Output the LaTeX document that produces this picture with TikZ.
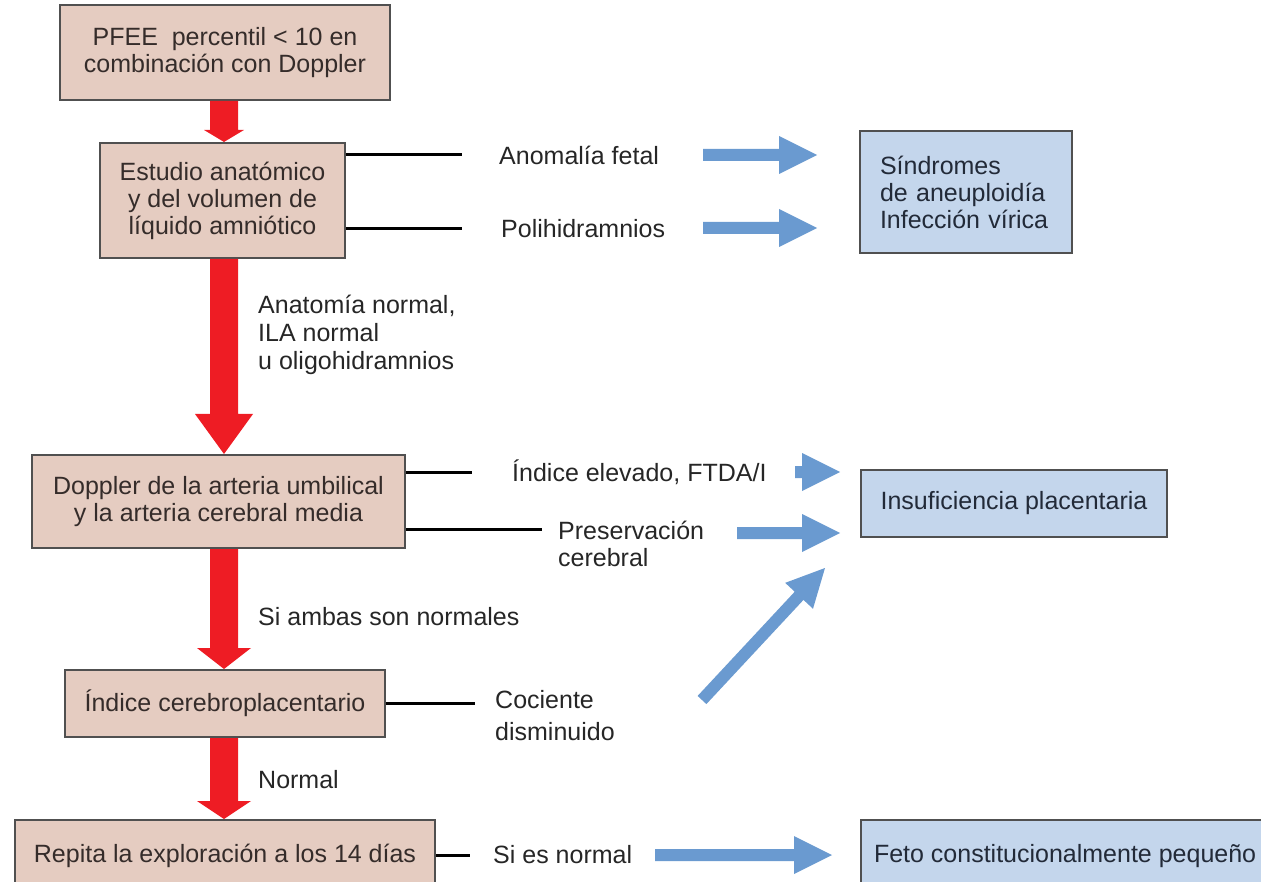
\documentclass[tikz,border=0pt]{standalone}
\usepackage{fontspec}
\setmainfont{Liberation Sans}
\usetikzlibrary{calc}
\definecolor{beige}{HTML}{E5CCC1}
\definecolor{lblue}{HTML}{C4D6EC}
\definecolor{arrblue}{HTML}{6A9AD0}
\definecolor{arrred}{HTML}{EE1C24}
\definecolor{edge}{HTML}{505050}
\definecolor{boxtxt}{HTML}{352C2A}
\definecolor{restxt}{HTML}{222A38}
\definecolor{labtxt}{HTML}{262626}

% #1 colour, #2 start, #3 tip, #4 shaft half width, #5 head half width, #6 head length
\newcommand\fatarrow[6]{%
  \coordinate (fahead) at ($(#3)!#6!(#2)$);
  \fill[#1] ($(#2)!#4!90:(#3)$) -- ($(fahead)!#4!90:(#3)$) -- ($(fahead)!#5!90:(#3)$)
    -- (#3) -- ($(fahead)!#5!-90:(#3)$) -- ($(fahead)!#4!-90:(#3)$) -- ($(#2)!#4!-90:(#3)$) -- cycle;}

\tikzset{
  every node/.style={font=\fontsize{25}{27}\selectfont},
  stepbox/.style={draw=edge, line width=2pt, fill=beige, text=boxtxt, align=center, inner sep=0pt},
  resbox/.style={draw=edge, line width=2pt, fill=lblue, text=restxt, inner sep=0pt},
  lab/.style={text=labtxt, align=left, anchor=west, inner sep=0pt},
  link/.style={draw=black, line width=3pt},
}

\begin{document}
\begin{tikzpicture}[x=1pt, y=-1pt]
\useasboundingbox (0,0) rectangle (1261,882);
\clip (0,0) rectangle (1261,882);

% main column boxes
\node[stepbox, minimum width=330pt, minimum height=95pt] (b1) at (225,52.5)
  {PFEE\ \ percentil < 10 en\\combinación con Doppler};
\node[stepbox, minimum width=245pt, minimum height=115pt] (b2) at (222.5,200.5)
  {Estudio anatómico\\y del volumen de\\líquido amniótico};
\node[stepbox, minimum width=373pt, minimum height=93pt] (b3) at (218.5,501.5)
  {Doppler de la arteria umbilical\\y la arteria cerebral media};
\node[stepbox, minimum width=320pt, minimum height=67pt] (b4) at (225,703.5)
  {Índice cerebroplacentario};
\node[stepbox, minimum width=420pt, minimum height=72pt] (b5) at (225,856)
  {Repita la exploración a los 14 días};

% result boxes
\node[resbox, align=left, text width=172pt, inner xsep=20pt, minimum height=122pt] (c1) at (966,192)
  {Síndromes\\de aneuploidía\\Infección vírica};
\node[resbox, inner xsep=20pt, minimum height=67pt] (c2) at (1014,503.5)
  {Insuficiencia placentaria};
\node[resbox, anchor=west, inner xsep=13pt, minimum height=72pt] (c3) at (860,856)
  {Feto constitucionalmente pequeño};

% labels
\node[lab] (t1) at (499,155) {Anomalía fetal};
\node[lab] (t2) at (501,229) {Polihidramnios};
\node[lab, font=\fontsize{25}{28}\selectfont] (t3) at (258,335) {Anatomía normal,\\ILA normal\\u oligohidramnios};
\node[lab] (t4) at (512,472) {Índice elevado, FTDA/I};
\node[lab] (t5) at (558,544) {Preservación\\cerebral};
\node[lab] (t6) at (258,617) {Si ambas son normales};
\node[lab, font=\fontsize{25}{32}\selectfont] (t7) at (495,716) {Cociente\\disminuido};
\node[lab] (t8) at (258,780) {Normal};
\node[lab] (t9) at (493,855) {Si es normal};

% black connector lines
\draw[link] (b2.east |- t1.west) -- ([xshift=-37pt]t1.west);
\draw[link] (b2.east |- t2.west) -- ([xshift=-39pt]t2.west);
\draw[link] (b3.east |- t4.west) -- ([xshift=-40pt]t4.west);
\draw[link] (b3.east |- 0,529) -- (542,529) coordinate (l5);
\draw[link] (b4.east) -- (475,703.5) coordinate (l7);
\draw[link] (b5.east |- t9.west) -- ([xshift=-23pt]t9.west);

% red flow arrows
\coordinate (spine) at (224,0);
\coordinate (r1s) at (b1.south -| spine);
\coordinate (r1e) at (b2.north -| spine);
\coordinate (r2s) at (b2.south -| spine);
\coordinate (r2e) at (b3.north -| spine);
\coordinate (r3s) at (b3.south -| spine);
\coordinate (r3e) at (b4.north -| spine);
\coordinate (r4s) at (b4.south -| spine);
\coordinate (r4e) at (b5.north -| spine);
\fatarrow{arrred}{r1s}{r1e}{14pt}{20pt}{12pt}
\fatarrow{arrred}{r2s}{r2e}{14pt}{29pt}{40pt}
\fatarrow{arrred}{r3s}{r3e}{14pt}{27pt}{21pt}
\fatarrow{arrred}{r4s}{r4e}{14pt}{27pt}{18pt}

% blue arrows
\coordinate (ba1s) at (703,155);  \coordinate (ba1e) at (817,155);
\coordinate (ba2s) at (703,228);  \coordinate (ba2e) at (817,228);
\coordinate (ba3s) at (795,472);  \coordinate (ba3e) at (840,472);
\coordinate (ba4s) at (737,533);  \coordinate (ba4e) at (840,533);
\coordinate (ba5s) at (702,700);  \coordinate (ba5e) at (825,568);
\coordinate (ba6s) at (655,855);  \coordinate (ba6e) at (832,855);
\fatarrow{arrblue}{ba1s}{ba1e}{6pt}{19pt}{38pt}
\fatarrow{arrblue}{ba2s}{ba2e}{6pt}{19pt}{38pt}
\fatarrow{arrblue}{ba3s}{ba3e}{6pt}{19pt}{38pt}
\fatarrow{arrblue}{ba4s}{ba4e}{6pt}{19pt}{38pt}
\fatarrow{arrblue}{ba5s}{ba5e}{6pt}{19pt}{38pt}
\fatarrow{arrblue}{ba6s}{ba6e}{6pt}{19pt}{38pt}
\end{tikzpicture}
\end{document}
